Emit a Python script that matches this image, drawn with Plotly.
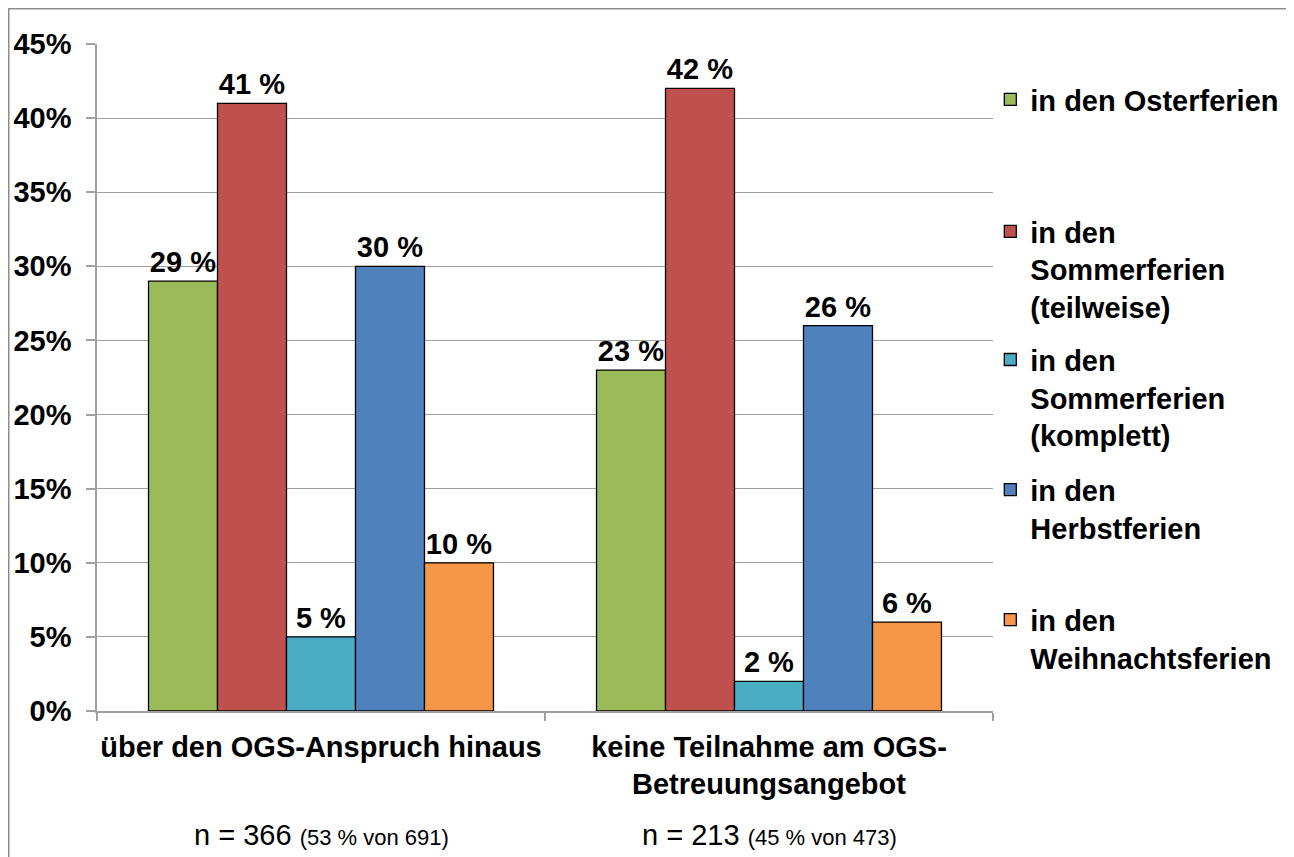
"""Ferienbetreuung: grouped bar chart, Excel-style."""
import plotly.graph_objects as go

categories = ["über den OGS-Anspruch hinaus", "keine Teilnahme am OGS-<br>Betreuungsangebot"]
series_names = [
    "in den Osterferien",
    "in den<br>Sommerferien<br>(teilweise)",
    "in den<br>Sommerferien<br>(komplett)",
    "in den<br>Herbstferien",
    "in den<br>Weihnachtsferien",
]
series_values = [
    [29, 23],
    [41, 42],
    [5, 2],
    [30, 26],
    [10, 6],
]
series_colors = ["#9BBB59", "#C0504D", "#4BACC6", "#4F81BD", "#F79646"]
n_main = ["n = 366", "n = 213"]
n_detail = ["(53 % von 691)", "(45 % von 473)"]
y_ticks = [0, 5, 10, 15, 20, 25, 30, 35, 40, 45]
y_ticktext = [f"{v}%" for v in y_ticks]

FONT = "Arial, Liberation Sans, sans-serif"
GRID = "#A0A0A0"
legend_y = [0.955, 0.757, 0.565, 0.37, 0.175]

fig = go.Figure()
for i, (name, vals, col) in enumerate(zip(series_names, series_values, series_colors)):
    lg = "legend" if i == 0 else f"legend{i + 1}"
    fig.add_trace(go.Bar(
        x=categories, y=vals, name=name,
        marker=dict(color=col, line=dict(color="#000000", width=1.3)),
        text=[f"{v} %" for v in vals], textposition="outside",
        textfont=dict(family=FONT, size=29, color="#000000", weight="bold"),
        cliponaxis=False, legend=lg,
    ))

legend_cfg = {}
for i, yv in enumerate(legend_y):
    key = "legend" if i == 0 else f"legend{i + 1}"
    legend_cfg[key] = dict(
        x=0.997, y=yv, xanchor="left", yanchor="top", valign="top",
        bgcolor="rgba(0,0,0,0)", borderwidth=0, itemwidth=30,
        font=dict(family=FONT, size=29, color="#000000", weight="bold"),
    )

for cat, a, b in zip(categories, n_main, n_detail):
    fig.add_annotation(
        x=cat, y=-0.186, xref="x", yref="paper", showarrow=False,
        yanchor="middle",
        text=f"{a} <span style='font-size:22px'>{b}</span>",
        font=dict(family=FONT, size=29, color="#000000"),
    )

# outer frame like the Excel chart area
fig.add_shape(type="rect", xref="paper", yref="paper",
              x0=-0.0985, x1=1.3304, y0=-0.25, y1=1.0529,
              line=dict(color="#8C8C8C", width=1.5), fillcolor="rgba(0,0,0,0)")

fig.update_layout(
    width=1286, height=849,
    margin=dict(l=89, r=301, t=36, b=146, autoexpand=False),
    paper_bgcolor="white", plot_bgcolor="white",
    barmode="group", bargap=0.23, bargroupgap=0,
    font=dict(family=FONT, color="#000000"),
    showlegend=True,
    **legend_cfg,
)
fig.update_yaxes(
    range=[0, 45], tickmode="array", tickvals=y_ticks, ticktext=y_ticktext,
    showgrid=True, gridcolor=GRID, gridwidth=1,
    showline=True, linecolor=GRID, linewidth=1.5,
    ticks="outside", ticklen=9, tickcolor=GRID, tickwidth=1.5,
    ticklabelstandoff=9, zeroline=False, automargin=False,
    tickfont=dict(family=FONT, size=29, color="#000000", weight="bold"),
)
fig.update_xaxes(
    showline=True, linecolor=GRID, linewidth=1.5,
    ticks="outside", ticklen=8, tickcolor=GRID, tickwidth=1.5,
    tickson="boundaries", showgrid=False, tickangle=0, automargin=False,
    ticklabelstandoff=9,
    tickfont=dict(family=FONT, size=29, color="#000000", weight="bold"),
)

fig.write_html("out.html")
